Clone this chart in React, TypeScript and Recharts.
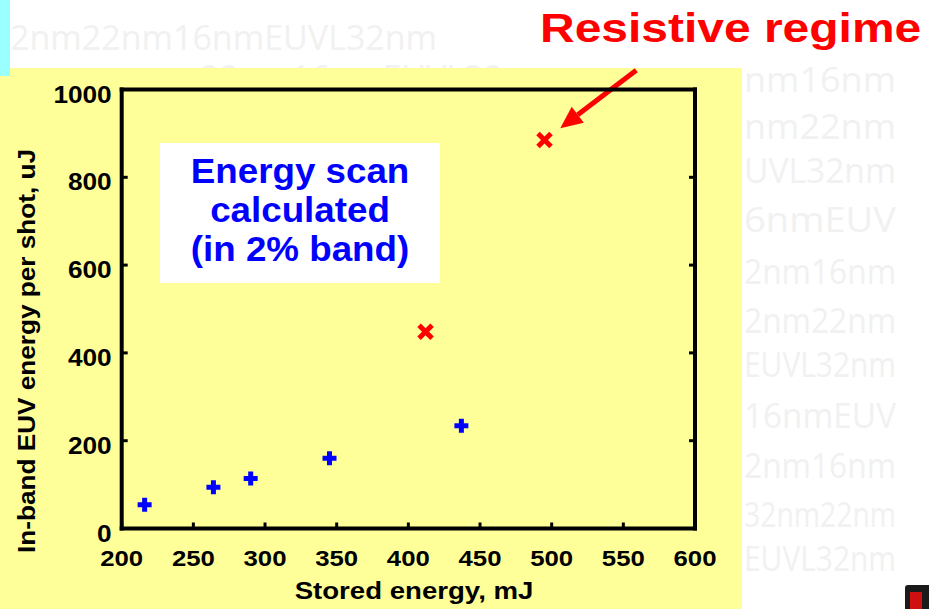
import React from 'react';
import { ScatterChart, Scatter, XAxis, YAxis, ReferenceLine } from 'recharts';

// Energy scan points (stored energy in mJ, EUV energy in uJ)
const scanStored = [216, 264, 290, 345, 437];
const scanEuv = [54, 94, 114, 160, 234];
const resistiveStored = [412, 495];
const resistiveEuv = [448, 885];

const xTicks = [200, 250, 300, 350, 400, 450, 500, 550, 600];
const yTicks = [0, 200, 400, 600, 800, 1000];

const boxLines = ['Energy scan', 'calculated', '(in 2% band)'];

// arrow from the heading down to the last resistive point
const arrowFrom = { x: 559, y: 1044 };
const arrowTo = { x: 506, y: 912 };

// faint background lettering of the slide
const wmTop = [
  { x: 10, y: 50, text: '2nm22nm16nmEUVL32nm' },
  { x: 200, y: 90, text: '22nm16nmEUVL32nm' },
];
const wmRight = ['nm16nm', 'nm22nm', 'UVL32nm', '6nmEUV', '2nm16nm', '2nm22nm', 'EUVL32nm', '16nmEUV', '2nm16nm', '32nm22nm', 'EUVL32nm'];
const wmRightY = [92, 139, 183, 232, 284, 333, 377, 428, 478, 527, 571];

const scanData = scanStored.map((x, i) => ({ x, y: scanEuv[i] }));
const resistiveData = resistiveStored.map((x, i) => ({ x, y: resistiveEuv[i] }));

const FONT = "'Liberation Sans', Arial, Helvetica, sans-serif";

const Wide = ({ x, y, sx = 1, size, anchor = 'start', fill = '#000', rotate, children }: any) => (
  <text
    transform={`translate(${x},${y})${rotate ? ` rotate(${rotate})` : ''} scale(${sx},1)`}
    textAnchor={anchor}
    fontSize={size}
    fontWeight="bold"
    fontFamily={FONT}
    fill={fill}
  >
    {children}
  </text>
);

const PlusMark = ({ cx, cy }: any) => (
  <g stroke="#0000ff" strokeWidth={5}>
    <line x1={cx - 7} y1={cy} x2={cx + 7} y2={cy} />
    <line x1={cx} y1={cy - 7} x2={cx} y2={cy + 7} />
  </g>
);

const CrossMark = ({ cx, cy }: any) => (
  <g stroke="#ff0000" strokeWidth={5}>
    <line x1={cx - 6.5} y1={cy - 6.5} x2={cx + 6.5} y2={cy + 6.5} />
    <line x1={cx - 6.5} y1={cy + 6.5} x2={cx + 6.5} y2={cy - 6.5} />
  </g>
);

const BottomTick = ({ x, y, payload }: any) => (
  <g>
    <line x1={x} y1={y} x2={x} y2={y - 6} stroke="#000" strokeWidth={3} />
    <Wide x={x} y={y + 37} sx={1.12} size={23} anchor="middle">{payload.value}</Wide>
  </g>
);

const TopTick = ({ x, y }: any) => <line x1={x} y1={y} x2={x} y2={y + 6} stroke="#000" strokeWidth={3} />;

const LeftTick = ({ x, y, payload }: any) => (
  <g>
    <line x1={x} y1={y} x2={x + 6} y2={y} stroke="#000" strokeWidth={3} />
    <Wide x={x - 10} y={y + 13} sx={1.14} size={23} anchor="end">{payload.value}</Wide>
  </g>
);

const RightTick = ({ x, y }: any) => <line x1={x} y1={y} x2={x - 6} y2={y} stroke="#000" strokeWidth={3} />;

const Arrow = ({ x1, y1, x2, y2 }: any) => {
  const a = Math.atan2(y2 - y1, x2 - x1);
  const len = 22;
  const half = 10;
  const bx = x2 - len * Math.cos(a);
  const by = y2 - len * Math.sin(a);
  const px = -Math.sin(a) * half;
  const py = Math.cos(a) * half;
  return (
    <g>
      <line x1={x1} y1={y1} x2={bx} y2={by} stroke="#ff0000" strokeWidth={5} />
      <polygon points={`${x2},${y2} ${bx + px},${by + py} ${bx - px},${by - py}`} fill="#ff0000" />
    </g>
  );
};

const axisLine = { stroke: '#000', strokeWidth: 4, strokeLinecap: 'square' as const };

export default function App() {
  return (
    <div style={{ position: 'absolute', left: 0, top: 0, width: 929, height: 609, overflow: 'hidden', background: '#fff' }}>
      <svg width={929} height={609} style={{ position: 'absolute', left: 0, top: 0 }}>
        <defs>
          <clipPath id="wm-top">
            <rect x={0} y={0} width={742} height={609} />
          </clipPath>
        </defs>
        <g fill="#f1f1f1" fontFamily="'Open Sans', sans-serif" fontSize={34}>
          <g clipPath="url(#wm-top)">
            {wmTop.map((r, i) => (
              <text key={`t${i}`} x={r.x} y={r.y}>{r.text}</text>
            ))}
          </g>
          {wmRight.map((t, i) => (
            <text key={`r${i}`} x={744} y={wmRightY[i]} textLength={152} lengthAdjust="spacingAndGlyphs">{t}</text>
          ))}
        </g>
        <rect x={0} y={68} width={742} height={541} fill="#ffff99" />
        <rect x={0} y={0} width={10} height={76} fill="#99ffff" />
        <rect x={905} y={585} width={30} height={30} rx={3} fill="#1a1a1a" />
        <rect x={910} y={592} width={12} height={17} fill="#d01010" />

        <Wide x={540} y={42} sx={1.17} size={41} fill="#ff0000">Resistive regime</Wide>

        <rect x={160} y={143} width={280} height={140} fill="#fff" />
        {boxLines.map((t, i) => (
          <Wide key={t} x={300} y={183 + i * 39} sx={1.05} size={35} anchor="middle" fill="#0000ff">{t}</Wide>
        ))}

        <Wide x={414} y={599} sx={1.15} size={24} anchor="middle">Stored energy, mJ</Wide>
        <Wide x={35} y={351} sx={1.09} size={24} anchor="middle" rotate={-90}>In-band EUV energy per shot, uJ</Wide>
      </svg>

      <div style={{ position: 'absolute', left: 0, top: 0 }}>
        <ScatterChart width={929} height={609} margin={{ top: 79.5, right: 224, bottom: 50.5, left: 61.7 }}>
          <XAxis
            dataKey="x"
            type="number"
            domain={[200, 600]}
            ticks={xTicks}
            height={30}
            axisLine={axisLine}
            tickLine={false}
            tickSize={0}
            tickMargin={0}
            tick={<BottomTick />}
            allowDataOverflow
          />
          <XAxis
            xAxisId="top"
            orientation="top"
            type="number"
            domain={[200, 600]}
            ticks={xTicks}
            height={10}
            axisLine={axisLine}
            tickLine={false}
            tickSize={0}
            tickMargin={0}
            tick={<TopTick />}
            allowDataOverflow
          />
          <YAxis
            dataKey="y"
            type="number"
            domain={[0, 1000]}
            ticks={yTicks}
            width={60}
            axisLine={axisLine}
            tickLine={false}
            tickSize={0}
            tickMargin={0}
            tick={<LeftTick />}
            allowDataOverflow
          />
          <YAxis
            yAxisId="right"
            orientation="right"
            type="number"
            domain={[0, 1000]}
            ticks={yTicks}
            width={10}
            axisLine={axisLine}
            tickLine={false}
            tickSize={0}
            tickMargin={0}
            tick={<RightTick />}
            allowDataOverflow
          />
          <Scatter data={scanData} shape={<PlusMark />} isAnimationActive={false} />
          <Scatter data={resistiveData} shape={<CrossMark />} isAnimationActive={false} />
          <ReferenceLine segment={[arrowFrom, arrowTo]} ifOverflow="visible" shape={<Arrow />} />
        </ScatterChart>
      </div>
    </div>
  );
}
